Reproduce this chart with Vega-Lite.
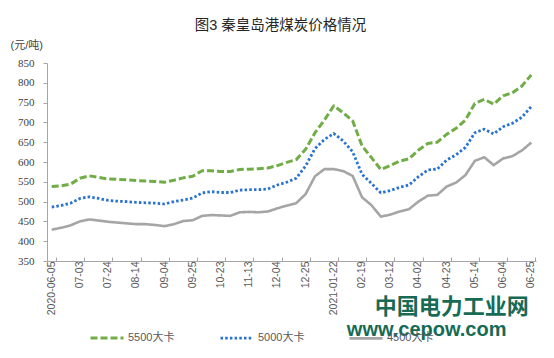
{
  "$schema": "https://vega.github.io/schema/vega-lite/v6.json",
  "width": 489,
  "height": 198,
  "autosize": {"type": "none"},
  "padding": {"left": 47, "top": 63, "right": 18, "bottom": 97},
  "background": "white",
  "title": {
    "text": "图3 秦皇岛港煤炭价格情况",
    "font": "Liberation Sans, Noto Sans CJK SC",
    "fontSize": 14.5,
    "fontWeight": "normal",
    "color": "#262626",
    "anchor": "middle",
    "frame": "group",
    "dx": -11,
    "offset": 6
  },
  "config": {
    "view": {"stroke": null},
    "axis": {"grid": false, "labelOverlap": false},
    "axisY": {"labelOverlap": false, "labelFlush": false}
  },
  "resolve": {"scale": {"y": "independent"}, "axis": {"y": "independent"}},
  "data": {
    "values": [
      {"date": "2020-06-05", "5500大卡": 538, "5000大卡": 486, "4500大卡": 429},
      {"date": "2020-06-12", "5500大卡": 540, "5000大卡": 490, "4500大卡": 434},
      {"date": "2020-06-19", "5500大卡": 544, "5000大卡": 496, "4500大卡": 440},
      {"date": "2020-07-03", "5500大卡": 559, "5000大卡": 508, "4500大卡": 450},
      {"date": "2020-07-10", "5500大卡": 565, "5000大卡": 512, "4500大卡": 455},
      {"date": "2020-07-17", "5500大卡": 561, "5000大卡": 508, "4500大卡": 452},
      {"date": "2020-07-24", "5500大卡": 557, "5000大卡": 503, "4500大卡": 449},
      {"date": "2020-07-31", "5500大卡": 556, "5000大卡": 501, "4500大卡": 447},
      {"date": "2020-08-07", "5500大卡": 555, "5000大卡": 500, "4500大卡": 445},
      {"date": "2020-08-14", "5500大卡": 553, "5000大卡": 498, "4500大卡": 443},
      {"date": "2020-08-21", "5500大卡": 552, "5000大卡": 497, "4500大卡": 443},
      {"date": "2020-08-28", "5500大卡": 551, "5000大卡": 496, "4500大卡": 441},
      {"date": "2020-09-04", "5500大卡": 549, "5000大卡": 494, "4500大卡": 438},
      {"date": "2020-09-11", "5500大卡": 554, "5000大卡": 500, "4500大卡": 443},
      {"date": "2020-09-18", "5500大卡": 560, "5000大卡": 504, "4500大卡": 451},
      {"date": "2020-09-25", "5500大卡": 564, "5000大卡": 509, "4500大卡": 453},
      {"date": "2020-10-09", "5500大卡": 578, "5000大卡": 522, "4500大卡": 464},
      {"date": "2020-10-16", "5500大卡": 578, "5000大卡": 525, "4500大卡": 466},
      {"date": "2020-10-23", "5500大卡": 576, "5000大卡": 523, "4500大卡": 465},
      {"date": "2020-10-30", "5500大卡": 576, "5000大卡": 523, "4500大卡": 464},
      {"date": "2020-11-06", "5500大卡": 581, "5000大卡": 529, "4500大卡": 473},
      {"date": "2020-11-13", "5500大卡": 582, "5000大卡": 530, "4500大卡": 474},
      {"date": "2020-11-20", "5500大卡": 583, "5000大卡": 530, "4500大卡": 473},
      {"date": "2020-11-27", "5500大卡": 585, "5000大卡": 532, "4500大卡": 475},
      {"date": "2020-12-04", "5500大卡": 591, "5000大卡": 542, "4500大卡": 483},
      {"date": "2020-12-11", "5500大卡": 599, "5000大卡": 549, "4500大卡": 490},
      {"date": "2020-12-18", "5500大卡": 606, "5000大卡": 559, "4500大卡": 496},
      {"date": "2020-12-25", "5500大卡": 632, "5000大卡": 590, "4500大卡": 519},
      {"date": "2021-01-08", "5500大卡": 674, "5000大卡": 634, "4500大卡": 564},
      {"date": "2021-01-15", "5500大卡": 706, "5000大卡": 657, "4500大卡": 582},
      {"date": "2021-01-22", "5500大卡": 742, "5000大卡": 672, "4500大卡": 582},
      {"date": "2021-01-29", "5500大卡": 724, "5000大卡": 653, "4500大卡": 577},
      {"date": "2021-02-05", "5500大卡": 704, "5000大卡": 626, "4500大卡": 565},
      {"date": "2021-02-19", "5500大卡": 641, "5000大卡": 569, "4500大卡": 511},
      {"date": "2021-02-26", "5500大卡": 611, "5000大卡": 546, "4500大卡": 491},
      {"date": "2021-03-05", "5500大卡": 581, "5000大卡": 522, "4500大卡": 462},
      {"date": "2021-03-12", "5500大卡": 591, "5000大卡": 528, "4500大卡": 467},
      {"date": "2021-03-19", "5500大卡": 602, "5000大卡": 536, "4500大卡": 475},
      {"date": "2021-03-26", "5500大卡": 608, "5000大卡": 542, "4500大卡": 481},
      {"date": "2021-04-02", "5500大卡": 630, "5000大卡": 563, "4500大卡": 500},
      {"date": "2021-04-09", "5500大卡": 647, "5000大卡": 580, "4500大卡": 515},
      {"date": "2021-04-16", "5500大卡": 650, "5000大卡": 582, "4500大卡": 517},
      {"date": "2021-04-23", "5500大卡": 670, "5000大卡": 605, "4500大卡": 538},
      {"date": "2021-04-30", "5500大卡": 685, "5000大卡": 618, "4500大卡": 548},
      {"date": "2021-05-07", "5500大卡": 706, "5000大卡": 637, "4500大卡": 567},
      {"date": "2021-05-14", "5500大卡": 748, "5000大卡": 674, "4500大卡": 603},
      {"date": "2021-05-21", "5500大卡": 758, "5000大卡": 683, "4500大卡": 612},
      {"date": "2021-05-28", "5500大卡": 746, "5000大卡": 671, "4500大卡": 592},
      {"date": "2021-06-04", "5500大卡": 767, "5000大卡": 689, "4500大卡": 609},
      {"date": "2021-06-11", "5500大卡": 775, "5000大卡": 698, "4500大卡": 615},
      {"date": "2021-06-18", "5500大卡": 792, "5000大卡": 713, "4500大卡": 629},
      {"date": "2021-06-25", "5500大卡": 820, "5000大卡": 740, "4500大卡": 649}
    ]
  },
  "layer": [
    {
      "transform": [{"fold": ["5500大卡", "5000大卡", "4500大卡"], "as": ["series", "price"]}],
      "mark": {"type": "line", "strokeJoin": "round"},
      "encoding": {
        "x": {
          "field": "date",
          "type": "ordinal",
          "sort": null,
          "scale": {"type": "band", "paddingInner": 0, "paddingOuter": 0},
          "axis": {
            "title": null,
            "values": ["2020-06-05", "2020-07-03", "2020-07-24", "2020-08-14", "2020-09-04", "2020-09-25", "2020-10-23", "2020-11-13", "2020-12-04", "2020-12-25", "2021-01-22", "2021-02-19", "2021-03-12", "2021-04-02", "2021-04-23", "2021-05-14", "2021-06-04", "2021-06-25"],
            "labelExpr": "indexof(['2020-06-05','2021-01-22'], datum.value) >= 0 ? datum.value : substring(datum.value, 5)",
            "bandPosition": 1,
            "labelAngle": 270,
            "labelOverlap": false,
            "labelFont": "Liberation Sans",
            "labelFontSize": 10.5,
            "labelColor": "#595959",
            "labelPadding": 4,
            "domainColor": "#a6a6a6",
            "tickColor": "#a6a6a6",
            "tickSize": -4
          }
        },
        "y": {
          "field": "price",
          "type": "quantitative",
          "scale": {"domain": [350, 850], "nice": false, "zero": false},
          "axis": {
            "values": [350, 400, 450, 500, 550, 600, 650, 700, 750, 800, 850],
            "labelOverlap": false,
            "title": "(元/吨)",
            "titleAngle": 0,
            "titleX": -37,
            "titleY": -18,
            "titleAlign": "left",
            "titleBaseline": "middle",
            "titleFont": "Liberation Sans, Noto Sans CJK SC",
            "titleFontSize": 11,
            "titleFontWeight": "normal",
            "titleColor": "#404040",
            "labelFont": "Liberation Serif",
            "labelFontSize": 11,
            "labelColor": "#404040",
            "labelPadding": 9,
            "tickSize": 4,
            "domainColor": "#a6a6a6",
            "tickColor": "#a6a6a6"
          }
        },
        "color": {
          "field": "series",
          "type": "nominal",
          "scale": {"domain": ["5500大卡", "5000大卡", "4500大卡"], "range": ["#70ad47", "#2a72d0", "#a5a5a5"]},
          "legend": {
            "title": null,
            "orient": "none",
            "legendX": 42,
            "legendY": 257,
            "direction": "horizontal",
            "symbolType": "stroke",
            "symbolSize": 1089,
            "symbolStrokeWidth": 2.5,
            "labelFont": "Liberation Sans, Noto Sans CJK SC",
            "labelFontSize": 11,
            "labelColor": "#595959",
            "labelOffset": 3,
            "columnPadding": 39
          }
        },
        "strokeDash": {
          "field": "series",
          "type": "nominal",
          "scale": {"domain": ["5500大卡", "5000大卡", "4500大卡"], "range": [[7, 3], [2.5, 2.2], [1, 0]]},
          "legend": {
            "title": null,
            "orient": "none",
            "legendX": 42,
            "legendY": 257,
            "direction": "horizontal",
            "symbolType": "stroke",
            "symbolSize": 1089,
            "symbolStrokeWidth": 2.5,
            "labelFont": "Liberation Sans, Noto Sans CJK SC",
            "labelFontSize": 11,
            "labelColor": "#595959",
            "labelOffset": 3,
            "columnPadding": 39
          }
        },
        "strokeWidth": {
          "field": "series",
          "type": "nominal",
          "scale": {"domain": ["5500大卡", "5000大卡", "4500大卡"], "range": [3, 2.6, 2]},
          "legend": null
        }
      }
    },
    {
      "data": {"values": [{}]},
      "mark": {"type": "text", "text": "中国电力工业网", "font": "Noto Sans CJK SC", "fontSize": 22, "fontWeight": "bold", "color": "#176b55", "dx": 5, "baseline": "middle", "align": "center"},
      "encoding": {
        "x": {"datum": "2021-04-23", "type": "ordinal"},
        "y": {"datum": 234, "type": "quantitative", "scale": {"domain": [350, 850], "nice": false, "zero": false}, "axis": null}
      }
    },
    {
      "data": {"values": [{}]},
      "mark": {"type": "text", "text": "www.cepow.com", "font": "Liberation Sans", "fontSize": 20, "fontWeight": "bold", "color": "#176b55", "dx": -20, "baseline": "middle", "align": "center"},
      "encoding": {
        "x": {"datum": "2021-04-23", "type": "ordinal"},
        "y": {"datum": 176, "type": "quantitative", "scale": {"domain": [350, 850], "nice": false, "zero": false}, "axis": null}
      }
    }
  ]
}
